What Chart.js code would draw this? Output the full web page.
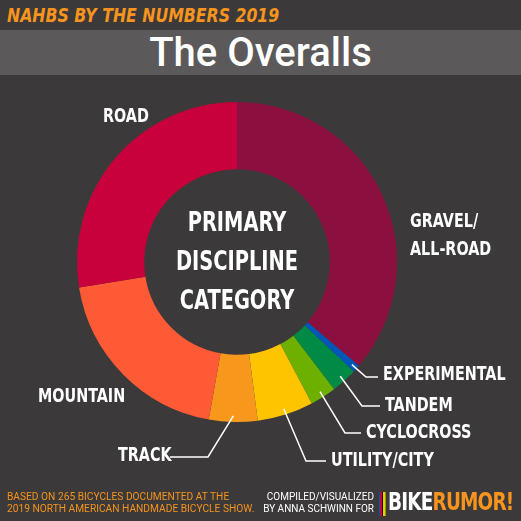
<!DOCTYPE html>
<html><head><meta charset="utf-8">
<script src="https://cdn.jsdelivr.net/npm/chart.js@4"></script>
<style>
body{margin:0;background:#3b3939;width:521px;height:521px;overflow:hidden;position:relative;font-family:"DejaVu Sans Condensed","DejaVu Sans",sans-serif}
.t{position:absolute;color:#fff;white-space:nowrap}
</style></head><body>
<div class="t" style="left:7px;top:4px;color:#f7941d;font:italic bold 19px 'DejaVu Sans Condensed';transform:scaleX(0.92);transform-origin:0 0">NAHBS BY THE NUMBERS 2019</div>
<div style="position:absolute;left:0;top:30px;width:521px;height:45px;background:#5b5959"></div>
<div class="t" style="left:0;width:521px;text-align:center;top:30px;font:500 40px Roboto;line-height:45px">The Overalls</div>
<canvas id="c" width="521" height="521" style="position:absolute;left:0;top:0"></canvas>
<div class="t" style="left:7px;top:491px;color:#f7941d;font:10px Roboto;line-height:12px;transform:scaleX(1.02);transform-origin:0 0">BASED ON 265 BICYCLES DOCUMENTED AT THE<br>2019 NORTH AMERICAN HANDMADE BICYCLE SHOW.</div>
<div class="t" style="right:147px;top:491px;font:10px Roboto;line-height:12px;text-align:right">COMPILED/VISUALIZED<br>BY ANNA SCHWINN FOR</div>
<div style="position:absolute;left:379px;top:492px;width:7px;height:24px;background:linear-gradient(90deg,#0057b8 0 20%,#c8003c 20% 40%,#111 40% 60%,#ffc400 60% 80%,#6db000 80%)"></div>
<div class="t" style="left:388px;top:487px;font:bold 25px 'DejaVu Sans Condensed';letter-spacing:-1px;transform:scaleX(0.82);transform-origin:0 0">BIKE<span style="color:#f7941d">RUMOR!</span></div>
<script>
const categories = ['GRAVEL/ALL-ROAD','EXPERIMENTAL','TANDEM','CYCLOCROSS','UTILITY/CITY','TRACK','MOUNTAIN','ROAD'];
const counts = [96, 2, 7, 7, 15, 13, 52, 73];
const colors = ['#8b1040','#0057b8','#008a45','#6db000','#ffc400','#f7981d','#ff5a36','#c8003c'];
const centerLines = ['PRIMARY','DISCIPLINE','CATEGORY'];

// label text position, optional leader elbow
const labelSpots = [
  {lines:['GRAVEL/','ALL-ROAD'], x:410, y:222},
  {lines:['EXPERIMENTAL'], x:383, y:375, elbow:[366,377]},
  {lines:['TANDEM'], x:385, y:406, elbow:[362,406]},
  {lines:['CYCLOCROSS'], x:366, y:433, elbow:[345,433]},
  {lines:['UTILITY/CITY'], x:331, y:461, elbow:[306,461]},
  {lines:['TRACK'], x:118, y:456, elbow:[208,457], right:170},
  {lines:['MOUNTAIN'], x:38, y:397},
  {lines:['ROAD'], x:103, y:117}
];

function squeezed(ctx, text, x, y, sx) {
  ctx.save();
  ctx.translate(x, y);
  ctx.scale(sx, 1);
  ctx.fillText(text, 0, 0);
  ctx.restore();
}

const labelPlugin = {
  id: 'labels',
  afterDraw(chart) {
    const ctx = chart.ctx;
    const arcs = chart.getDatasetMeta(0).data;
    ctx.save();
    ctx.fillStyle = '#fff';
    ctx.strokeStyle = '#fff';
    ctx.lineWidth = 1.5;
    ctx.textBaseline = 'middle';
    ctx.font = 'bold 19px "DejaVu Sans Condensed"';
    labelSpots.forEach((s, i) => {
      s.lines.forEach((l, k) => squeezed(ctx, l, s.x, s.y + k * 28, 0.84));
      if (s.elbow) {
        const a = arcs[i];
        const mid = (a.startAngle + a.endAngle) / 2;
        const r = a.outerRadius - 6;
        ctx.beginPath();
        ctx.moveTo(a.x + Math.cos(mid) * r, a.y + Math.sin(mid) * r);
        ctx.lineTo(s.elbow[0], s.elbow[1]);
        ctx.lineTo(s.right ? s.right : s.x - 5, s.elbow[1]);
        ctx.stroke();
      }
    });
    const a0 = arcs[0];
    ctx.textAlign = 'center';
    ctx.font = 'bold 27px "DejaVu Sans Condensed"';
    centerLines.forEach((l, k) => squeezed(ctx, l, a0.x, a0.y - 38 + k * 39, 0.8));
    ctx.restore();
  }
};

new Chart(document.getElementById('c'), {
  type: 'doughnut',
  data: {labels: categories, datasets: [{data: counts, backgroundColor: colors, borderWidth: 0}]},
  options: {
    responsive: false,
    animation: false,
    cutout: '58%',
    layout: {padding: {left: 77, right: 124, top: 102, bottom: 99}},
    plugins: {legend: {display: false}, tooltip: {enabled: false}}
  },
  plugins: [labelPlugin]
});
</script>
</body></html>
